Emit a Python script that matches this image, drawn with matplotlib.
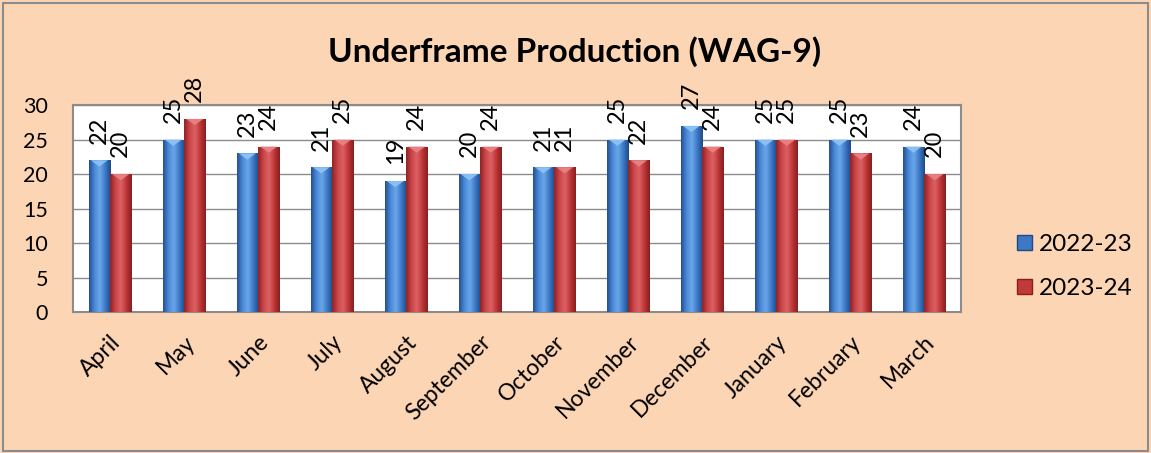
import numpy as np
import matplotlib
matplotlib.use("Agg")
import matplotlib.pyplot as plt
from matplotlib.patches import Rectangle, Polygon, Patch
from matplotlib.colors import LinearSegmentedColormap

months = ["April", "May", "June", "July", "August", "September", "October",
          "November", "December", "January", "February", "March"]
series_names = ["2022-23", "2023-24"]
prod_2022_23 = [22, 25, 23, 21, 19, 20, 21, 25, 27, 25, 25, 24]
prod_2023_24 = [20, 28, 24, 25, 24, 24, 21, 22, 24, 25, 23, 20]
yticks = [0, 5, 10, 15, 20, 25, 30]
title = "Underframe Production (WAG-9)"

plt.rcParams['font.family'] = ['Lato', 'DejaVu Sans']
BG = "#FCD5B5"

fig = plt.figure(figsize=(11.51, 4.53), dpi=100)
fig.patch.set_facecolor(BG)
fig.patches.append(Rectangle((0.003, 0.004), 0.994, 0.99, transform=fig.transFigure,
                             fill=False, edgecolor="#8c8c8c", linewidth=1.5))

ax = fig.add_axes([0.0634, 0.311, 0.7716, 0.457])
ax.set_facecolor("white")

blue_cmap = LinearSegmentedColormap.from_list("b", ["#244f91", "#4a8ad8", "#6aa6ea", "#3d78c4", "#1e4a8a"])
red_cmap = LinearSegmentedColormap.from_list("r", ["#8e2326", "#cc4548", "#dc6264", "#bf3537", "#86201f"])

x = np.arange(len(months))
w = 0.29
bars1 = ax.bar(x - w/2, prod_2022_23, w, color="#3d78c4", zorder=3)
bars2 = ax.bar(x + w/2, prod_2023_24, w, color="#c0393b", zorder=3)

grad = np.linspace(0, 1, 64).reshape(1, -1)
for bars, cmap, tipcol in ((bars1, blue_cmap, "#8fc4f5"), (bars2, red_cmap, "#e98486")):
    for b in bars:
        x0, y0 = b.get_x(), b.get_y()
        bw, bh = b.get_width(), b.get_height()
        im = ax.imshow(grad, cmap=cmap, aspect="auto", extent=(x0, x0 + bw, y0, y0 + bh),
                       zorder=3.5, interpolation="bicubic")
        im.set_clip_path(b)
        tri = Polygon([(x0 + bw*0.1, y0 + bh), (x0 + bw*0.9, y0 + bh), (x0 + bw/2, y0 + bh - 0.9)],
                      closed=True, facecolor=tipcol, edgecolor="none", zorder=4, alpha=0.9)
        ax.add_patch(tri)

for bars, vals in ((bars1, prod_2022_23), (bars2, prod_2023_24)):
    for b, v in zip(bars, vals):
        ax.annotate(str(v), (b.get_x() + b.get_width()/2, v), xytext=(0, 12),
                    textcoords="offset points", rotation=90,
                    ha="center", va="bottom", fontsize=17, color="black",
                    zorder=6, annotation_clip=False)

ax.set_xlim(-0.5, len(months) - 0.5)
ax.set_ylim(0, 30)
ax.set_yticks(yticks)
ax.set_yticklabels([str(t) for t in yticks], fontsize=15.5)
ax.set_xticks(x)
ax.set_xticklabels(months, fontsize=16.5, rotation=45, ha="right", va="top", rotation_mode="anchor")
ax.tick_params(axis="x", length=0, pad=14)
ax.tick_params(axis="y", length=0, pad=18)
ax.grid(axis="y", color="#8c8c8c", linewidth=1.0, zorder=0)
ax.set_axisbelow(True)
for s in ax.spines.values():
    s.set_color("#8c8c8c")
    s.set_linewidth(1.5)

fig.text(0.4995, 0.885, title, ha="center", va="center", fontsize=24, fontweight="bold")

handles = [Patch(facecolor="#3d78c4", edgecolor="#1e4a8a"),
           Patch(facecolor="#c0393b", edgecolor="#86201f")]
leg = fig.legend(handles, series_names, loc="center left", bbox_to_anchor=(0.884, 0.412),
                 frameon=False, fontsize=17.5, handlelength=0.6, handleheight=0.6,
                 handletextpad=0.3, labelspacing=0.95, borderpad=0, borderaxespad=0)

fig.savefig("out.png", dpi=100, facecolor=BG)
